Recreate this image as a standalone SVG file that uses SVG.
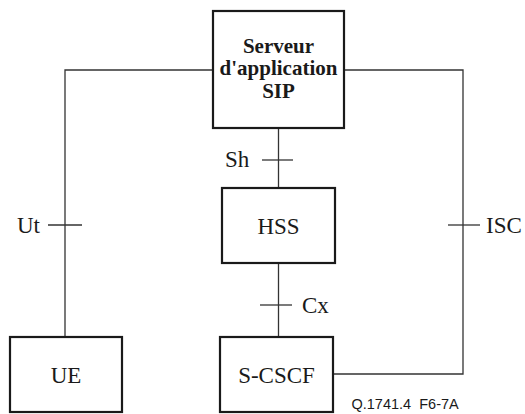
<svg xmlns="http://www.w3.org/2000/svg" width="525" height="414" viewBox="0 0 525 414">
  <style>
    .box { fill: #ffffff; stroke: #1a1a1a; stroke-width: 2.2; }
    .link { fill: none; stroke: #333333; stroke-width: 1.3; }
    .lbl { font-size: 23px; fill: #1a1a1a; }
    .bold { font-size: 21px; font-weight: bold; fill: #1a1a1a; text-anchor: middle; }
    .mid { text-anchor: middle; }
    .ref { font-size: 14.5px; fill: #1a1a1a; white-space: pre; }
  </style>

  <!-- interfaces between the functional entities -->
  <g id="connectors" font-family="'Liberation Serif', Tinos, 'DejaVu Serif', serif">
    <!-- Ut : UE to application server -->
    <polyline class="link" points="65,337 65,70 213,70"/>
    <line class="link" x1="48" y1="225" x2="82" y2="225"/>
    <!-- ISC : application server to S-CSCF -->
    <polyline class="link" points="344,70 463,70 463,374 333,374"/>
    <line class="link" x1="448" y1="225" x2="480" y2="225"/>
    <!-- Sh : application server to HSS -->
    <line class="link" x1="278.5" y1="128" x2="278.5" y2="188"/>
    <line class="link" x1="262" y1="160" x2="293" y2="160"/>
    <!-- Cx : HSS to S-CSCF -->
    <line class="link" x1="278.5" y1="263" x2="278.5" y2="337"/>
    <line class="link" x1="260" y1="305" x2="292" y2="305"/>
    <text class="lbl" x="17" y="233">Ut</text>
    <text class="lbl" x="486" y="233">ISC</text>
    <text class="lbl" x="225" y="167">Sh</text>
    <text class="lbl" x="302" y="313">Cx</text>
  </g>

  <g id="as" font-family="'Liberation Serif', Tinos, 'DejaVu Serif', serif">
    <rect class="box" x="213" y="11" width="131" height="117"/>
    <text class="bold" x="278.5" y="52.7">Serveur</text>
    <text class="bold" x="278.5" y="75">d'application</text>
    <text class="bold" x="278.5" y="97.7">SIP</text>
  </g>

  <g id="hss" font-family="'Liberation Serif', Tinos, 'DejaVu Serif', serif">
    <rect class="box" x="222" y="188" width="113" height="75"/>
    <text class="lbl mid" x="278.5" y="234">HSS</text>
  </g>

  <g id="ue" font-family="'Liberation Serif', Tinos, 'DejaVu Serif', serif">
    <rect class="box" x="10" y="337" width="112" height="75"/>
    <text class="lbl mid" x="66" y="383">UE</text>
  </g>

  <g id="scscf" font-family="'Liberation Serif', Tinos, 'DejaVu Serif', serif">
    <rect class="box" x="220" y="337" width="113" height="75"/>
    <text class="lbl mid" x="276.5" y="383">S-CSCF</text>
  </g>

  <text class="ref" font-family="'Liberation Sans', Arial, sans-serif" x="351.5" y="409" xml:space="preserve">Q.1741.4  F6-7A</text>
</svg>
